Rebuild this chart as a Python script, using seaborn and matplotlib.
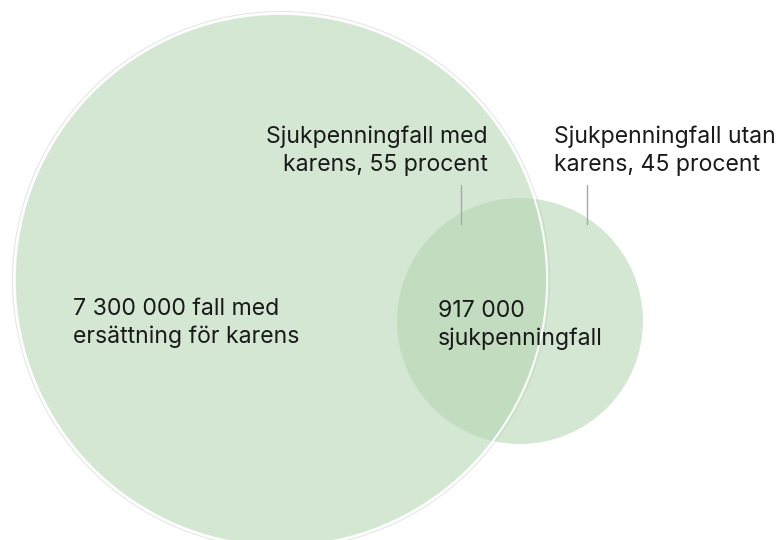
import matplotlib
matplotlib.use("Agg")
import matplotlib.pyplot as plt
from matplotlib.patches import Circle
import seaborn as sns

# ---- data ----
set_names = ["Fall med ersättning för karens", "Sjukpenningfall"]
set_counts = [7300000, 917000]
share_labels = ["med karens", "utan karens"]
share_values = [55, 45]

def fmt(n):
    return f"{n:,}".replace(",", " ")

big_label = [f"{fmt(set_counts[0])} fall med", "ersättning för karens"]
small_label = [f"{fmt(set_counts[1])}", "sjukpenningfall"]
share_text = [
    ["Sjukpenningfall med", f"karens, {share_values[0]} procent"],
    ["Sjukpenningfall utan", f"karens, {share_values[1]} procent"],
]

# ---- layout (pixels of the 782x540 canvas) ----
W, H = 782, 540
circ_centers = [(281, 280), (520, 321)]
circ_radii = [266, 123]
fill_color = "#b2d4b0"
fill_alpha = 0.55
text_color = "#1a1a1a"
line_gap = 28.5

sns.set_theme(style="white")
plt.rcParams["font.family"] = ["Inter", "DejaVu Sans"]

fig = plt.figure(figsize=(W / 100, H / 100), dpi=100)
ax = fig.add_axes([0, 0, 1, 1])
ax.set_xlim(0, W)
ax.set_ylim(H, 0)
ax.set_aspect("equal")
ax.axis("off")

# faint outer ring around big circle
ax.add_patch(Circle(circ_centers[0], circ_radii[0] + 2.5, facecolor="none",
                    edgecolor="#e6e6e6", lw=0.8, zorder=1))
# small circle first, big on top (its edge shows across overlap)
edge_alpha = {1: 0.5, 0: 0.9}
for i in [1, 0]:
    ax.add_patch(Circle(circ_centers[i], circ_radii[i], facecolor="none",
                        edgecolor="white", lw=1.2, alpha=edge_alpha[i], zorder=2))
    ax.add_patch(Circle(circ_centers[i], circ_radii[i], facecolor=fill_color,
                        alpha=fill_alpha, edgecolor="none", zorder=2))
ax.add_patch(Circle(circ_centers[0], circ_radii[0], facecolor="none",
                    edgecolor="white", lw=1.2, alpha=0.9, zorder=3))

fs = 16.6

def lines(x, y0, txt, ha):
    for k, t in enumerate(txt):
        ax.text(x, y0 + k * line_gap, t, ha=ha, va="baseline",
                fontsize=fs, color=text_color, zorder=5)

lines(73, 315, big_label, "left")
lines(438, 317, small_label, "left")
lines(488, 143, share_text[0], "right")
lines(554, 143, share_text[1], "left")

# leader lines
for x in [461, 587]:
    ax.plot([x, x], [185, 224], color="#a8a8a8", lw=1.0, zorder=4)

fig.savefig("out.png", dpi=100)
